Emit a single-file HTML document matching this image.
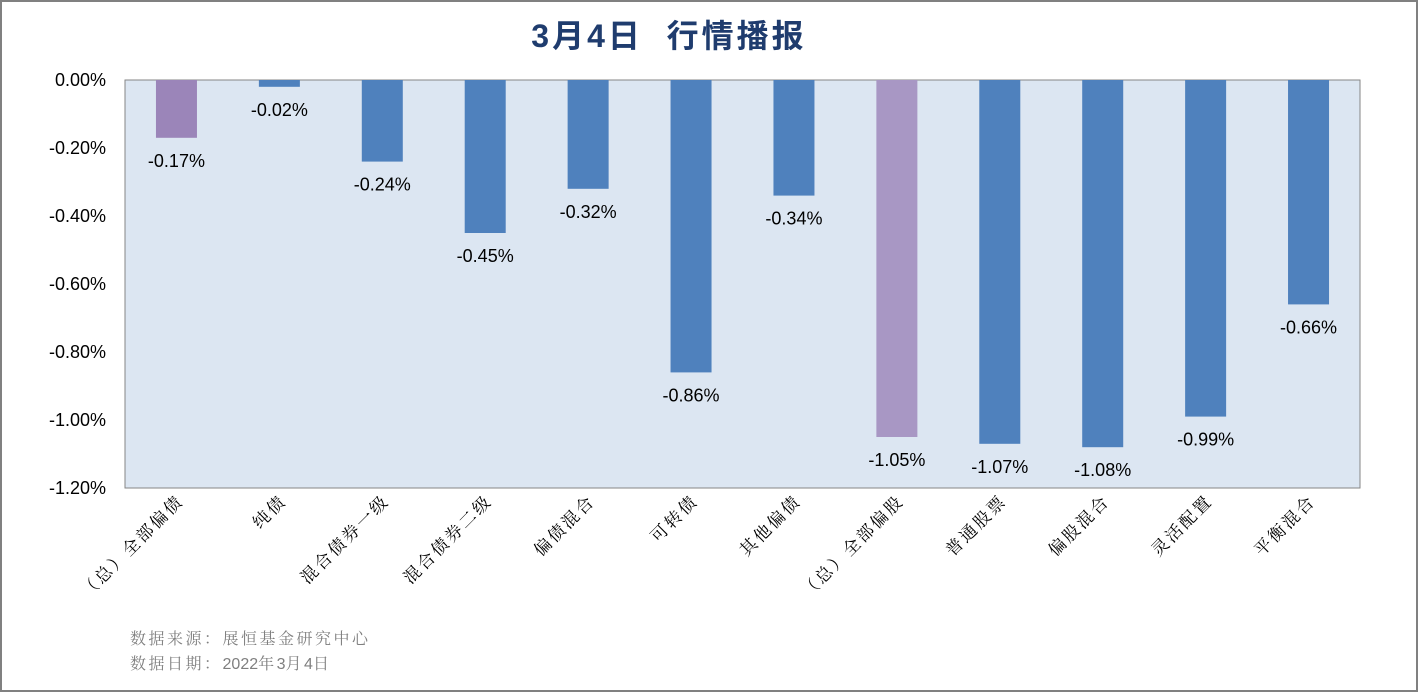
<!DOCTYPE html>
<html><head><meta charset="utf-8"><style>
html,body{margin:0;padding:0;background:#fff}
svg{display:block}
</style></head><body>
<svg width="1420" height="695" xmlns="http://www.w3.org/2000/svg">
<rect x="1" y="1" width="1416" height="690" fill="#fff" stroke="#808080" stroke-width="2"/>
<text x="669" y="47" text-anchor="middle" font-family="'Liberation Sans','Noto Sans CJK SC',sans-serif" font-weight="bold" font-size="32" letter-spacing="3" fill="#1f3c6e">3月4日&#160;&#160;行情播报</text>
<rect x="125" y="80" width="1235" height="408" fill="#dce6f2" stroke="#868686" stroke-width="1"/>
<g id="yaxis"></g>
<g id="bars"></g>
<g id="xlabels"></g>
<text x="130" y="644" font-family="'Noto Serif CJK SC','Noto Sans CJK SC',sans-serif" font-size="16" letter-spacing="2.5" fill="#7f7f7f">数据来源：展恒基金研究中心</text>
<text x="130" y="669" font-family="'Noto Serif CJK SC','Noto Sans CJK SC',sans-serif" font-size="16" letter-spacing="2.5" fill="#7f7f7f">数据日期：<tspan font-family="'Liberation Sans',sans-serif" letter-spacing="0">2022</tspan>年<tspan font-family="'Liberation Sans',sans-serif" letter-spacing="0">3</tspan>月<tspan font-family="'Liberation Sans',sans-serif" letter-spacing="0">4</tspan>日</text>
</svg>
<script>
const categories=["（总）全部偏债","纯债","混合债券一级","混合债券二级","偏债混合","可转债","其他偏债","（总）全部偏股","普通股票","偏股混合","灵活配置","平衡混合"];
const values=[-0.17,-0.02,-0.24,-0.45,-0.32,-0.86,-0.34,-1.05,-1.07,-1.08,-0.99,-0.66];
const highlight=[true,false,false,false,false,false,false,true,false,false,false,false];
const yTicks=[0,-0.2,-0.4,-0.6,-0.8,-1.0,-1.2];
const NS="http://www.w3.org/2000/svg";
const L=125,R=1360,T=80,B=488,yMin=-1.2;
const y=v=>T+(v/yMin)*(B-T);
const step=(R-L)/categories.length;
const x=i=>L+step*(i+0.5);
const yg=document.getElementById('yaxis'),bg=document.getElementById('bars'),xg=document.getElementById('xlabels');
function mk(tag,attrs,p){const e=document.createElementNS(NS,tag);for(const k in attrs)e.setAttribute(k,attrs[k]);p.appendChild(e);return e;}
yTicks.forEach(t=>{
  const e=mk('text',{x:106,y:y(t)+6,'text-anchor':'end','font-family':'Liberation Sans,sans-serif','font-size':'18',fill:'#000'},yg);
  
  
  e.textContent=t.toFixed(2)+'%';
});
values.forEach((v,i)=>{
  const bw=41;
  const r=mk('rect',{x:x(i)-bw/2,y:y(0),width:bw,height:y(v)-y(0),fill:highlight[i]?(i===0?'#9b85b9':'#a897c4'):'#4f81bd'},bg);
  
  
  const t=mk('text',{x:x(i),y:y(v)+29,'text-anchor':'middle','font-family':'Liberation Sans,sans-serif','font-size':'18',fill:'#000'},bg);
  
  
  t.textContent=v.toFixed(2)+'%';
});
categories.forEach((c,i)=>{
  const px=x(i)+8,py=502;
  const t=mk('text',{x:px,y:py,'text-anchor':'end',transform:`rotate(-45 ${px} ${py})`,'font-family':'Noto Serif CJK SC,Noto Sans CJK SC,sans-serif','font-size':'17','letter-spacing':'2.5',fill:'#000'},xg);
  
  
  t.textContent=c;
});
</script>
</body></html>
